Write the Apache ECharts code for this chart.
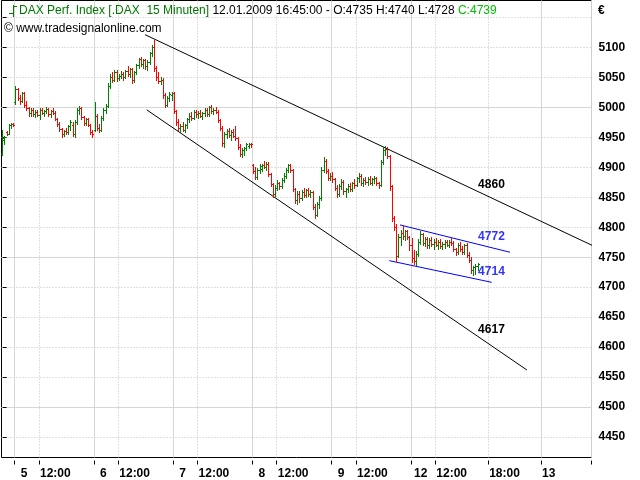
<!DOCTYPE html>
<html><head><meta charset="utf-8">
<script src="https://cdn.jsdelivr.net/npm/echarts@6/dist/echarts.min.js"></script>
<style>html,body{margin:0;padding:0;background:#fff}#c{width:640px;height:480px}</style>
</head><body><div id="c"></div>
<script>
// ---------- data ----------
const days = ['02.01', '05.01', '06.01', '07.01', '08.01', '09.01', '12.01', '13.01'];
// 15-minute bars [open, high, low, close]
const jan02 = [[4922,4962,4920,4948],[4945,4952,4939,4950],[4958,4960,4953,4955],[4956,4972,4955,4970],[4970,4973,4966,4972],[4972,4974,4969,4971]];
const jan05 = [[5008,5035,5005,5030],[5030,5032,5012,5015],[5015,5020,5005,5010],[5010,5026,5008,5024],[5024,5026,5000,5003],[5003,5010,4995,4998],[4998,5000,4985,4990],[4990,4998,4986,4995],[4995,4998,4985,4988],[4988,4995,4983,4992],[4992,4996,4985,4987],[4987,4998,4980,4996],[4996,4999,4988,4990],[4990,4995,4986,4993],[4993,5000,4990,4997],[4997,4999,4985,4988],[4988,4996,4984,4994],[4994,4998,4988,4991],[4991,4993,4978,4980],[4980,4982,4968,4972],[4972,4975,4960,4963],[4963,4966,4950,4955],[4955,4962,4952,4960],[4960,4966,4956,4958],[4958,4970,4956,4968],[4968,4978,4962,4976],[4970,4975,4952,4955],[4955,4978,4951,4975],[4975,4998,4972,4995],[4995,5002,4988,4998],[4998,5000,4980,4984],[4984,4986,4970,4974],[4974,4982,4970,4980],[4980,4982,4968,4970],[4970,4972,4955,4958],[4958,4962,4950,4955]];
const jan06 = [[4962,5008,4960,4985],[4985,4988,4962,4965],[4965,4972,4958,4962],[4962,4985,4960,4982],[4982,4998,4978,4995],[4995,5005,4990,5002],[5002,5040,5000,5035],[5035,5055,5032,5050],[5050,5058,5042,5045],[5045,5062,5043,5058],[5058,5062,5044,5048],[5048,5055,5045,5052],[5052,5060,5048,5056],[5056,5058,5046,5050],[5050,5062,5048,5060],[5060,5068,5052,5055],[5055,5066,5050,5064],[5064,5066,5040,5045],[5045,5060,5042,5058],[5058,5072,5055,5070],[5070,5082,5066,5080],[5080,5084,5068,5072],[5072,5080,5066,5078],[5078,5080,5064,5068],[5068,5078,5062,5075],[5075,5092,5072,5090],[5090,5104,5086,5100],[5100,5112,5060,5065],[5065,5068,5045,5050],[5050,5058,5040,5044],[5044,5050,5038,5046],[5046,5048,5015,5020],[5020,5024,5000,5004],[5004,5018,5002,5015],[5015,5025,5010,5022],[5020,5026,5012,5024]];
const jan07 = [[5024,5026,4990,4994],[4994,4996,4970,4975],[4975,4980,4962,4966],[4966,4972,4958,4968],[4968,4975,4960,4962],[4962,4972,4958,4970],[4970,4982,4966,4980],[4980,4990,4975,4986],[4986,4992,4978,4982],[4982,4995,4980,4992],[4992,4996,4984,4988],[4988,4994,4982,4990],[4990,4996,4984,4986],[4986,4992,4980,4990],[4990,4998,4986,4995],[4995,4998,4986,4988],[4988,5002,4986,5000],[5000,5003,4990,4994],[4994,4998,4988,4996],[4996,5000,4990,4992],[4992,4995,4975,4978],[4978,4980,4962,4966],[4966,4968,4935,4940],[4940,4958,4934,4955],[4955,4964,4948,4960],[4960,4966,4950,4953],[4953,4962,4946,4958],[4958,4964,4950,4952],[4952,4968,4945,4948],[4948,4950,4930,4934],[4934,4938,4918,4922],[4922,4932,4917,4928],[4928,4934,4920,4932],[4932,4940,4928,4938],[4936,4941,4932,4939],[4939,4941,4934,4938]];
const jan08 = [[4904,4906,4890,4893],[4893,4900,4880,4884],[4884,4898,4880,4895],[4895,4905,4890,4902],[4897,4906,4893,4904],[4904,4910,4898,4900],[4900,4908,4895,4906],[4906,4908,4885,4888],[4888,4890,4868,4872],[4872,4874,4850,4856],[4856,4870,4852,4866],[4866,4878,4862,4874],[4874,4876,4863,4868],[4868,4882,4865,4878],[4878,4890,4875,4886],[4886,4898,4882,4895],[4895,4906,4892,4904],[4904,4906,4892,4895],[4895,4897,4860,4864],[4864,4866,4840,4845],[4845,4860,4838,4856],[4856,4860,4842,4848],[4848,4862,4846,4858],[4858,4865,4850,4853],[4853,4864,4850,4862],[4862,4866,4852,4855],[4855,4862,4850,4858],[4858,4860,4830,4834],[4834,4838,4815,4820],[4820,4842,4818,4838],[4838,4852,4832,4848],[4848,4900,4846,4895],[4895,4917,4892,4910],[4910,4914,4890,4894],[4894,4897,4878,4882],[4882,4890,4878,4886]];
const jan09 = [[4886,4892,4876,4880],[4880,4882,4862,4866],[4866,4870,4850,4855],[4855,4872,4852,4868],[4868,4880,4864,4876],[4876,4878,4855,4860],[4860,4866,4850,4863],[4863,4872,4858,4869],[4869,4874,4860,4864],[4864,4876,4860,4873],[4873,4880,4866,4870],[4870,4884,4868,4882],[4882,4890,4876,4886],[4886,4888,4870,4874],[4874,4882,4868,4879],[4879,4884,4872,4876],[4876,4883,4870,4880],[4880,4885,4872,4874],[4874,4882,4870,4880],[4880,4886,4874,4882],[4882,4884,4870,4873],[4873,4876,4866,4870],[4870,4912,4868,4908],[4908,4934,4905,4928],[4928,4935,4920,4930],[4930,4933,4915,4918],[4918,4920,4862,4868],[4868,4870,4810,4815],[4815,4818,4795,4800],[4800,4806,4744,4752],[4752,4788,4750,4784],[4784,4795,4770,4790],[4790,4803,4780,4785],[4785,4796,4778,4793],[4793,4795,4780,4784],[4784,4786,4762,4770]];
const jan12 = [[4770,4782,4742,4748],[4748,4762,4738,4744],[4744,4760,4737,4756],[4756,4780,4752,4776],[4776,4793,4772,4788],[4788,4790,4770,4774],[4774,4784,4768,4780],[4780,4784,4766,4770],[4770,4782,4765,4778],[4778,4784,4768,4772],[4772,4780,4764,4776],[4776,4782,4768,4770],[4770,4778,4764,4775],[4775,4780,4766,4768],[4768,4776,4764,4772],[4772,4778,4766,4775],[4775,4779,4768,4771],[4771,4778,4767,4776],[4776,4782,4770,4773],[4773,4777,4760,4763],[4763,4766,4754,4758],[4758,4774,4756,4770],[4770,4776,4760,4764],[4764,4768,4755,4758],[4758,4772,4756,4770],[4770,4774,4750,4754],[4754,4758,4742,4746],[4746,4750,4724,4728],[4728,4736,4720,4733],[4733,4738,4722,4735],[4735,4740,4728,4739]];
// first category of each block of bars
const blockStarts = ['02.01 16:45', '05.01 09:15', '06.01 09:15', '07.01 09:15', '08.01 09:15', '09.01 09:15', '12.01 09:15'];
const blocks = [jan02, jan05, jan06, jan07, jan08, jan09, jan12];

// trend lines: [bar index, price]
const upperTrend = [[64.7, 5121], [268.2, 4769]];
const lowerTrend = [[65.45, 4995.7], [238.2, 4561.8]];
const blueUpper = [[180.5, 4803.8], [230.5, 4758.2]];
const blueLower = [[175.65, 4744.2], [222.17, 4708.1]];
const trendLabels = [4860, 4772, 4714, 4617];
const trendLabelColors = ['#000000', '#3333ff', '#3333ff', '#000000'];

// x tick labels
const tickCats = ['05.01 09:15','05.01 12:00','06.01 09:15','06.01 12:00','07.01 09:15','07.01 12:00','08.01 09:15','08.01 12:00','09.01 09:15','09.01 12:00','12.01 09:15','12.01 12:00','12.01 18:00','13.01 00:00'];
const tickTexts = ['5','12:00','6','12:00','7','12:00','8','12:00','9','12:00','12','12:00','18:00','13'];
const tickStyles = ['d','t','d','t','d','t','d','t','d','t','e','t','t','t'];

// y axis
const yMin = 4416, yMax = 5178;

// ---------- build categories ----------
function hm(m) { const h = Math.floor(m / 60), mm = m % 60; return (h < 10 ? '0' : '') + h + ':' + (mm < 10 ? '0' : '') + mm; }
const session = [];
for (let m = 9 * 60 + 15; m <= 18 * 60; m += 15) session.push(hm(m));
const categories = [];
session.slice(session.length - 6).forEach(t => categories.push(days[0] + ' ' + t));
for (let d = 1; d <= 6; d++) session.forEach(t => categories.push(days[d] + ' ' + t));
for (let m = 18 * 60 + 15; m <= 23 * 60 + 45; m += 15) categories.push(days[6] + ' ' + hm(m));
for (let m = 0; m <= 5 * 60 + 30; m += 15) categories.push(days[7] + ' ' + hm(m));

const ohlc = [];
blocks.forEach((b, k) => {
  const s = categories.indexOf(blockStarts[k]);
  b.forEach((bar, j) => ohlc.push([s + j, bar[0], bar[1], bar[2], bar[3]]));
});
const lastIndex = ohlc[ohlc.length - 1][0];

const tickMap = {};
tickCats.forEach((c, i) => { tickMap[c] = i; });
const isTick = (i, v) => tickMap[v] !== undefined;
const isDay = (i, v) => tickMap[v] !== undefined && tickTexts[tickMap[v]].indexOf(':') < 0;
const isTime = (i, v) => tickMap[v] !== undefined && tickTexts[tickMap[v]].indexOf(':') >= 0;

const F = '"Liberation Sans", Arial, Helvetica, sans-serif';
const UP = '#008000', DOWN = '#ff0000';
const N = categories.length;

function renderOHLC(params, api) {
  const i = api.value(0);
  const o = api.value(1), h = api.value(2), l = api.value(3), c = api.value(4);
  const p = api.coord([i, o]);
  const x = Math.floor(p[0]);
  const yo = Math.round(p[1]);
  const yh = Math.round(api.coord([i, h])[1]);
  const yl = Math.round(api.coord([i, l])[1]);
  const yc = Math.round(api.coord([i, c])[1]);
  const col = c >= o ? UP : DOWN;
  return { type: 'group', children: [
    { type: 'rect', shape: { x: x, y: yh, width: 1, height: Math.max(1, yl - yh + 1) }, style: { fill: col } },
    { type: 'rect', shape: { x: x - 1, y: yo, width: 1, height: 1 }, style: { fill: col } },
    { type: 'rect', shape: { x: x + 1, y: yc, width: 1, height: 1 }, style: { fill: col } }
  ] };
}

const lineS = (data, color) => ({ type: 'line', xAxisIndex: 2, yAxisIndex: 0, data: data, showSymbol: false, symbol: 'none', silent: true, clip: true, animation: false, lineStyle: { color: color, width: 1 }, z: 3 });

const chart = echarts.init(document.getElementById('c'), null, { renderer: 'canvas' });
chart.setOption({
  animation: false,
  backgroundColor: '#ffffff',
  grid: { left: 1.5, top: 0.5, width: 590, height: 457, show: true, borderColor: '#000', borderWidth: 1, backgroundColor: '#fff', containLabel: false },
  xAxis: [
    { type: 'category', data: categories, boundaryGap: true, position: 'bottom', offset: 3,
      axisLine: { show: false },
      axisTick: { show: true, length: 4, interval: isTick, lineStyle: { color: '#000', width: 1 } },
      axisLabel: { show: true, interval: isTick, align: 'left', margin: 7, color: '#000', fontSize: 12, fontWeight: 'bold', fontFamily: F,
        formatter: v => { const k = tickMap[v]; if (k === undefined) return ''; const s = tickStyles[k]; return s === 't' ? tickTexts[k] : '{' + s + '|' + tickTexts[k] + '}'; },
        rich: { d: { padding: [0, 0, 0, 5], color: '#000', fontSize: 12, fontWeight: 'bold', fontFamily: F },
                e: { padding: [0, 0, 0, 2], color: '#000', fontSize: 12, fontWeight: 'bold', fontFamily: F } } },
      splitLine: { show: true, interval: isDay, lineStyle: { color: '#d6d6d6', width: 1 } } },
    { type: 'category', data: categories, boundaryGap: true, position: 'bottom',
      axisLine: { show: false }, axisTick: { show: false }, axisLabel: { show: false },
      splitLine: { show: true, interval: isTime, lineStyle: { color: '#c0c0c0', width: 1, type: [1, 2] } } },
    { type: 'value', min: -0.5, max: N - 0.5, show: false }
  ],
  yAxis: [
    { type: 'value', position: 'right', min: yMin, max: yMax, splitNumber: 15, minInterval: 50, maxInterval: 50, offset: 1,
      axisLine: { show: false },
      axisTick: { show: true, length: 4, lineStyle: { color: '#000' } },
      axisLabel: { show: true, margin: 6, color: '#000', fontSize: 12, fontWeight: 'bold', fontFamily: F,
        formatter: v => (v % 50 === 0 && v !== 5150) ? String(v) : '' },
      splitLine: { show: true, showMinLine: false, showMaxLine: false, lineStyle: { color: '#c0c0c0', width: 1, type: [1, 2] } } },
    { type: 'value', position: 'right', min: yMin, max: yMax, splitNumber: 3, minInterval: 250, maxInterval: 250,
      axisLine: { show: false }, axisTick: { show: false }, axisLabel: { show: false },
      splitLine: { show: true, showMinLine: false, showMaxLine: false, lineStyle: { color: '#d6d6d6', width: 1 } } }
  ],
  series: [
    { type: 'custom', xAxisIndex: 0, yAxisIndex: 0, data: ohlc, renderItem: renderOHLC, encode: { x: 0, y: [1, 2, 3, 4] }, clip: true, silent: true, z: 4 },
    lineS(upperTrend, '#000'),
    lineS(lowerTrend, '#000'),
    lineS(blueUpper, '#0000ff'),
    lineS(blueLower, '#0000ff'),
    { type: 'scatter', xAxisIndex: 2, yAxisIndex: 0, symbolSize: 0, silent: true, itemStyle: { color: '#000', opacity: 1 }, z: 6,
      emphasis: { disabled: true },
      data: trendLabels.map((v, k) => ({ value: [lastIndex, v], label: { color: trendLabelColors[k] } })),
      label: { show: true, position: 'right', distance: 0, offset: [0, -7], fontSize: 12, fontWeight: 'bold', fontFamily: F,
        textBorderWidth: 0, textShadowBlur: 0, opacity: 1,
        formatter: p => String(p.value[1]) } }
  ],
  graphic: [
    { type: 'polyline', shape: { points: [[9, 13.5], [13.5, 13.5], [13.5, 5], [13.5, 17], [13.5, 6.5], [17, 6.5]] }, style: { stroke: UP, lineWidth: 1, fill: null }, z: 10 },
    { type: 'text', x: 19, y: 11, z: 10, style: {
        text: '{g|DAX Perf. Index [.DAX  15 Minuten]}{k| 12.01.2009 16:45:00 - O:4735 H:4740 L:4728 }{c|C:4739}',
        verticalAlign: 'middle', font: '12px ' + F,
        rich: { g: { fill: '#007800', fontSize: 12, fontFamily: F }, k: { fill: '#000', fontSize: 12, fontFamily: F }, c: { fill: '#00c000', fontSize: 12, fontFamily: F } } } },
    { type: 'text', x: 4, y: 29, z: 10, style: { text: '© www.tradesignalonline.com', verticalAlign: 'middle', font: '12px ' + F, fill: '#000' } },
    { type: 'text', x: 598, y: 11, z: 10, style: { text: '€', verticalAlign: 'middle', font: 'bold 12px ' + F, fill: '#000' } }
  ]
});
</script></body></html>
